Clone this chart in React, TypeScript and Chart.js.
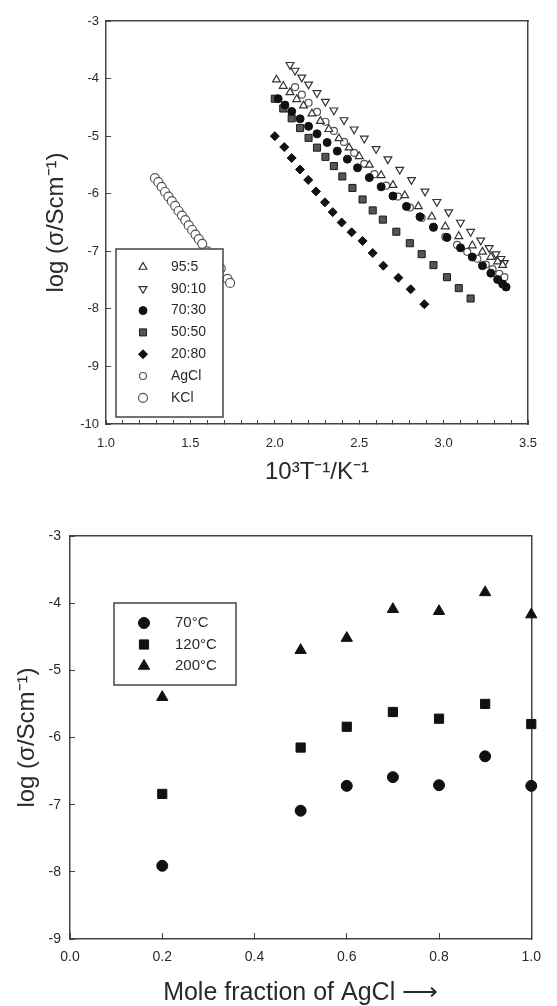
import React, { useEffect, useRef } from "react";
import { Chart, registerables } from "chart.js";
import { drawPoint } from "chart.js/helpers";

Chart.register(...registerables);

const FONT = "'Liberation Sans', Arial, Helvetica, sans-serif";

// ---------- Top chart: log conductivity vs 10^3/T ----------
const x95_5 = [2.01, 2.05, 2.09, 2.13, 2.17, 2.22, 2.27, 2.32, 2.38, 2.44, 2.5, 2.56, 2.63, 2.7, 2.77, 2.85, 2.93, 3.01, 3.09, 3.17, 3.23, 3.28, 3.32, 3.35];
const y95_5 = [-4.02, -4.13, -4.24, -4.36, -4.47, -4.61, -4.74, -4.88, -5.04, -5.2, -5.35, -5.5, -5.68, -5.85, -6.03, -6.22, -6.4, -6.57, -6.74, -6.9, -7.01, -7.1, -7.18, -7.24];

const x90_10 = [2.09, 2.12, 2.16, 2.2, 2.25, 2.3, 2.35, 2.41, 2.47, 2.53, 2.6, 2.67, 2.74, 2.81, 2.89, 2.96, 3.03, 3.1, 3.16, 3.22, 3.27, 3.31, 3.34, 3.36];
const y90_10 = [-3.76, -3.86, -3.98, -4.1, -4.25, -4.4, -4.55, -4.72, -4.88, -5.04, -5.22, -5.4, -5.58, -5.76, -5.96, -6.14, -6.32, -6.5, -6.66, -6.81, -6.94, -7.05, -7.13, -7.2];

const x70_30 = [2.02, 2.06, 2.1, 2.15, 2.2, 2.25, 2.31, 2.37, 2.43, 2.49, 2.56, 2.63, 2.7, 2.78, 2.86, 2.94, 3.02, 3.1, 3.17, 3.23, 3.28, 3.32, 3.35, 3.37];
const y70_30 = [-4.35, -4.46, -4.57, -4.7, -4.83, -4.96, -5.11, -5.26, -5.4, -5.55, -5.72, -5.88, -6.04, -6.22, -6.4, -6.58, -6.76, -6.94, -7.1, -7.25, -7.38, -7.49, -7.57, -7.62];

const x50_50 = [2.0, 2.05, 2.1, 2.15, 2.2, 2.25, 2.3, 2.35, 2.4, 2.46, 2.52, 2.58, 2.64, 2.72, 2.8, 2.87, 2.94, 3.02, 3.09, 3.16];
const y50_50 = [-4.35, -4.52, -4.69, -4.86, -5.03, -5.2, -5.36, -5.52, -5.7, -5.9, -6.1, -6.29, -6.45, -6.66, -6.86, -7.05, -7.24, -7.45, -7.64, -7.82];

const x20_80 = [2.0, 2.056, 2.1, 2.149, 2.198, 2.244, 2.297, 2.343, 2.396, 2.455, 2.52, 2.58, 2.643, 2.732, 2.805, 2.886];
const y20_80 = [-5.0, -5.19, -5.38, -5.58, -5.76, -5.96, -6.15, -6.32, -6.5, -6.67, -6.82, -7.03, -7.25, -7.46, -7.66, -7.92];

const xAgCl = [2.12, 2.16, 2.2, 2.25, 2.3, 2.35, 2.41, 2.47, 2.53, 2.59, 2.66, 2.73, 2.8, 2.87, 2.94, 3.01, 3.08, 3.14, 3.2, 3.25, 3.29, 3.33, 3.36];
const yAgCl = [-4.15, -4.28, -4.42, -4.58, -4.75, -4.91, -5.1, -5.29, -5.48, -5.66, -5.86, -6.05, -6.24, -6.42, -6.59, -6.75, -6.89, -7.01, -7.13, -7.23, -7.31, -7.39, -7.45];

const xKCl = [1.29, 1.31, 1.33, 1.35, 1.37, 1.39, 1.41, 1.43, 1.45, 1.47, 1.49, 1.51, 1.53, 1.55, 1.57, 1.6, 1.64, 1.68, 1.72, 1.735];
const yKCl = [-5.73, -5.8, -5.88, -5.97, -6.05, -6.13, -6.21, -6.3, -6.38, -6.46, -6.55, -6.63, -6.71, -6.79, -6.87, -7.0, -7.15, -7.3, -7.48, -7.55];

const topLabels = ["95:5", "90:10", "70:30", "50:50", "20:80", "AgCl", "KCl"];

// ---------- Bottom chart: log conductivity vs mole fraction ----------
const moleFraction = [0.2, 0.5, 0.6, 0.7, 0.8, 0.9, 1.0];
const log70C = [-7.91, -7.09, -6.72, -6.59, -6.71, -6.28, -6.72];
const log120C = [-6.84, -6.15, -5.84, -5.62, -5.72, -5.5, -5.8];
const log200C = [-5.4, -4.7, -4.52, -4.09, -4.12, -3.84, -4.17];
const bottomLabels = ["70°C", "120°C", "200°C"];

const pts = (xs: number[], ys: number[]) => xs.map((x, i) => ({ x, y: ys[i] }));

// Boxed legend drawn inside the plot area, from the datasets' own styles
const boxLegend = {
  id: "boxLegend",
  afterDatasetsDraw(chart: any, _args: any, opts: any) {
    if (!opts || !opts.display) return;
    const { ctx, chartArea } = chart;
    const left = chartArea.left + opts.offsetX;
    const top =
      opts.anchor === "bottom"
        ? chartArea.bottom - opts.offsetY - opts.height
        : chartArea.top + opts.offsetY;
    ctx.save();
    ctx.fillStyle = "#ffffff";
    ctx.fillRect(left, top, opts.width, opts.height);
    ctx.strokeStyle = opts.borderColor;
    ctx.lineWidth = opts.borderWidth;
    ctx.strokeRect(left, top, opts.width, opts.height);
    chart.data.datasets.forEach((ds: any, i: number) => {
      const cy = top + opts.firstRow + i * opts.rowGap;
      const cx = left + opts.markerX;
      ctx.fillStyle = ds.backgroundColor;
      ctx.strokeStyle = ds.borderColor;
      ctx.lineWidth = ds.borderWidth;
      drawPoint(
        ctx,
        {
          pointStyle: ds.pointStyle,
          rotation: ds.pointRotation || 0,
          radius: ds.pointRadius,
          borderWidth: ds.borderWidth,
        } as any,
        cx,
        cy
      );
      ctx.fillStyle = opts.color;
      ctx.font = `${opts.fontSize}px ${FONT}`;
      ctx.textBaseline = "middle";
      ctx.textAlign = "left";
      ctx.fillText(ds.label, left + opts.textX, cy);
    });
    ctx.restore();
  },
};

const AXIS = "#444444";
const TEXT = "#2a2a2a";

function frameAxes() {
  return {
    xTop: {
      type: "linear",
      position: "top",
      display: true,
      ticks: { display: false },
      grid: { display: false },
      border: { display: true, color: AXIS, width: 1.5 },
      afterFit: (s: any) => {
        s.height = 0;
      },
    },
    yRight: {
      type: "linear",
      position: "right",
      display: true,
      ticks: { display: false },
      grid: { display: false },
      border: { display: true, color: AXIS, width: 1.5 },
      afterFit: (s: any) => {
        s.width = 0;
      },
    },
  };
}

function topConfig(): any {
  return {
    type: "scatter",
    data: {
      datasets: [
        { label: topLabels[0], data: pts(x95_5, y95_5), pointStyle: "triangle", pointRadius: 4.5, backgroundColor: "#ffffff", borderColor: "#333333", borderWidth: 1.2, clip: false },
        { label: topLabels[1], data: pts(x90_10, y90_10), pointStyle: "triangle", pointRotation: 180, pointRadius: 4.5, backgroundColor: "#ffffff", borderColor: "#333333", borderWidth: 1.2, clip: false },
        { label: topLabels[2], data: pts(x70_30, y70_30), pointStyle: "circle", pointRadius: 4, backgroundColor: "#111111", borderColor: "#111111", borderWidth: 1, clip: false },
        { label: topLabels[3], data: pts(x50_50, y50_50), pointStyle: "rect", pointRadius: 5, backgroundColor: "#555555", borderColor: "#1a1a1a", borderWidth: 1, clip: false },
        { label: topLabels[4], data: pts(x20_80, y20_80), pointStyle: "rectRot", pointRadius: 4.5, backgroundColor: "#111111", borderColor: "#111111", borderWidth: 1, clip: false },
        { label: topLabels[5], data: pts(xAgCl, yAgCl), pointStyle: "circle", pointRadius: 3.5, backgroundColor: "#ffffff", borderColor: "#555555", borderWidth: 1.2, clip: false },
        { label: topLabels[6], data: pts(xKCl, yKCl), pointStyle: "circle", pointRadius: 4.5, backgroundColor: "#ffffff", borderColor: "#555555", borderWidth: 1.2, clip: false },
      ],
    },
    options: {
      responsive: false,
      animation: false,
      events: [],
      layout: { padding: { left: 0, top: 21, right: 29, bottom: 0 } },
      plugins: {
        legend: { display: false },
        tooltip: { enabled: false },
        boxLegend: {
          display: true,
          anchor: "bottom",
          offsetX: 10,
          offsetY: 7,
          width: 107,
          height: 168,
          firstRow: 18,
          rowGap: 21.8,
          markerX: 27,
          textX: 55,
          fontSize: 14,
          color: TEXT,
          borderColor: AXIS,
          borderWidth: 1.5,
        },
      },
      scales: {
        x: {
          type: "linear",
          position: "bottom",
          min: 1,
          max: 3.5,
          afterFit: (s: any) => {
            s.height = 79;
          },
          ticks: {
            stepSize: 0.1,
            autoSkip: false,
            maxRotation: 0,
            padding: 16,
            color: TEXT,
            font: { family: FONT, size: 13 },
            callback: (v: number) =>
              Math.abs(v * 2 - Math.round(v * 2)) < 1e-6 ? v.toFixed(1) : "",
          },
          grid: { display: true, drawOnChartArea: false, drawTicks: true, tickLength: -4, color: AXIS, lineWidth: 1 },
          border: { display: true, color: AXIS, width: 1.5 },
          title: {
            display: true,
            text: "10³T⁻¹/K⁻¹",
            color: TEXT,
            font: { family: FONT, size: 24, lineHeight: 1 },
            padding: { top: 0, bottom: 19 },
          },
        },
        y: {
          type: "linear",
          position: "left",
          min: -10,
          max: -3,
          afterFit: (s: any) => {
            s.width = 106;
          },
          ticks: {
            stepSize: 1,
            padding: 12,
            color: TEXT,
            font: { family: FONT, size: 13 },
          },
          grid: { display: true, drawOnChartArea: false, drawTicks: true, tickLength: -5, color: AXIS, lineWidth: 1 },
          border: { display: true, color: AXIS, width: 1.5 },
          title: {
            display: true,
            text: "log (σ/Scm⁻¹)",
            color: TEXT,
            font: { family: FONT, size: 24, lineHeight: 1 },
            padding: { top: 44, bottom: 0 },
          },
        },
        ...frameAxes(),
      },
    },
    plugins: [boxLegend],
  };
}

function bottomConfig(): any {
  return {
    type: "scatter",
    data: {
      datasets: [
        { label: bottomLabels[0], data: pts(moleFraction, log70C), pointStyle: "circle", pointRadius: 5.5, backgroundColor: "#111111", borderColor: "#111111", borderWidth: 1, clip: false },
        { label: bottomLabels[1], data: pts(moleFraction, log120C), pointStyle: "rect", pointRadius: 6.5, backgroundColor: "#111111", borderColor: "#111111", borderWidth: 1, clip: false },
        { label: bottomLabels[2], data: pts(moleFraction, log200C), pointStyle: "triangle", pointRadius: 6.5, backgroundColor: "#111111", borderColor: "#111111", borderWidth: 1, clip: false },
      ],
    },
    options: {
      responsive: false,
      animation: false,
      events: [],
      layout: { padding: { left: 0, top: 33, right: 13, bottom: 0 } },
      plugins: {
        legend: { display: false },
        tooltip: { enabled: false },
        boxLegend: {
          display: true,
          anchor: "top",
          offsetX: 44,
          offsetY: 67,
          width: 122,
          height: 82,
          firstRow: 20,
          rowGap: 21.5,
          markerX: 30,
          textX: 61,
          fontSize: 15,
          color: TEXT,
          borderColor: AXIS,
          borderWidth: 1.5,
        },
      },
      scales: {
        x: {
          type: "linear",
          position: "bottom",
          min: 0,
          max: 1,
          afterFit: (s: any) => {
            s.height = 67;
          },
          ticks: {
            stepSize: 0.2,
            autoSkip: false,
            maxRotation: 0,
            padding: 16,
            color: TEXT,
            font: { family: FONT, size: 14 },
            callback: (v: number) => v.toFixed(1),
          },
          grid: { display: true, drawOnChartArea: false, drawTicks: true, tickLength: -6, color: AXIS, lineWidth: 1 },
          border: { display: true, color: AXIS, width: 1.5 },
          title: {
            display: true,
            text: "Mole fraction of AgCl ⟶",
            color: TEXT,
            font: { family: FONT, size: 25, lineHeight: 1 },
            padding: { top: 0, bottom: 0.5 },
          },
        },
        y: {
          type: "linear",
          position: "left",
          min: -9,
          max: -3,
          afterFit: (s: any) => {
            s.width = 70;
          },
          ticks: {
            stepSize: 1,
            padding: 14,
            color: TEXT,
            font: { family: FONT, size: 14 },
          },
          grid: { display: true, drawOnChartArea: false, drawTicks: true, tickLength: -5, color: AXIS, lineWidth: 1 },
          border: { display: true, color: AXIS, width: 1.5 },
          title: {
            display: true,
            text: "log (σ/Scm⁻¹)",
            color: TEXT,
            font: { family: FONT, size: 24, lineHeight: 1 },
            padding: { top: 15, bottom: 0 },
          },
        },
        ...frameAxes(),
      },
    },
    plugins: [boxLegend],
  };
}

function ChartCanvas({ makeConfig, top, height }: { makeConfig: () => any; top: number; height: number }) {
  const ref = useRef<HTMLCanvasElement | null>(null);
  useEffect(() => {
    if (!ref.current) return;
    const chart = new Chart(ref.current, makeConfig());
    return () => chart.destroy();
  }, [makeConfig]);
  return (
    <canvas
      ref={ref}
      width={557}
      height={height}
      style={{ position: "absolute", left: 0, top, width: 557, height, display: "block" }}
    />
  );
}

export default function App() {
  return (
    <div style={{ position: "absolute", left: 0, top: 0, width: 557, height: 1006, background: "#ffffff", overflow: "hidden" }}>
      <ChartCanvas makeConfig={topConfig} top={0} height={503} />
      <ChartCanvas makeConfig={bottomConfig} top={503} height={503} />
    </div>
  );
}
